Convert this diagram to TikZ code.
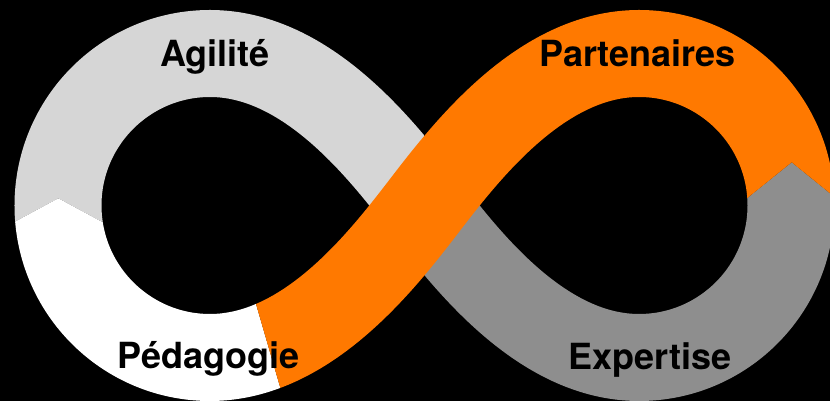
\documentclass[tikz,border=0pt]{standalone}
\usepackage{fontspec}
\setmainfont{TeX Gyre Heros}
\definecolor{lgray}{HTML}{D6D6D6}
\definecolor{dgray}{HTML}{8E8E8E}
\definecolor{orng}{HTML}{FF7900}
\begin{document}
\begin{tikzpicture}[x=1pt,y=1pt,
  band/.style={line width=87pt},
  lbl/.style={font=\fontsize{36}{40}\selectfont\bfseries, text=black, anchor=base, inner sep=0pt}]
\fill[black] (0,0) rectangle (830,401);
\useasboundingbox (0,0) rectangle (830,401);
% key points
\coordinate (C) at (424.5,195.5);
\coordinate (TL) at (210,347.5);
\coordinate (BL) at (210,43.5);
\coordinate (TR) at (639,347.5);
\coordinate (BR) at (639,43.5);
% light gray (top-left)
\begin{scope}
\clip (-10,165.8) -- (58.3,202.7) -- (150,153.2) -- (424.5,100) -- (424.5,420) -- (-10,420) -- cycle;
\draw[band, lgray] (C) .. controls (381.9,251) and (307,347.5) .. (TL)
  arc[start angle=90, end angle=270, radius=152];
\end{scope}
% white (bottom-left)
\begin{scope}
\clip (-10,165.8) -- (58.3,202.7) -- (150,153.2) -- (234.8,170) -- (287,-10) -- (-10,-10) -- cycle;
\draw[band, white] (TL) arc[start angle=90, end angle=270, radius=152]
  .. controls (307,43.5) and (381.9,140) .. (C);
\end{scope}
% dark gray (bottom-right)
\begin{scope}
\clip (424.5,-10) -- (424.5,300) -- (700,164.9) -- (791.7,238.7) -- (870,175.3) -- (870,-10) -- cycle;
\draw[band, dgray] (C) .. controls (467.1,140) and (542,43.5) .. (BR)
  arc[start angle=-90, end angle=90, radius=152];
\end{scope}
% orange
\begin{scope}
\clip (234.8,170) -- (287,-10) -- (690,120) -- (700,164.9) -- (791.7,238.7) -- (870,175.3) -- (870,420) -- (200,420) -- cycle;
\draw[band, orng] (BL) .. controls (307,43.5) and (381.9,140) .. (C)
  .. controls (467.1,251) and (542,347.5) .. (TR)
  arc[start angle=90, end angle=-30, radius=152];
\end{scope}
\node[lbl] (agilite) at (215,334.3) {Agilité};
\node[lbl] (partenaires) at (637.5,334.3) {Partenaires};
\node[lbl] (pedagogie) at (208.5,32.7) {Pédagogie};
\node[lbl] (expertise) at (650,31.7) {Expertise};
\end{tikzpicture}
\end{document}
